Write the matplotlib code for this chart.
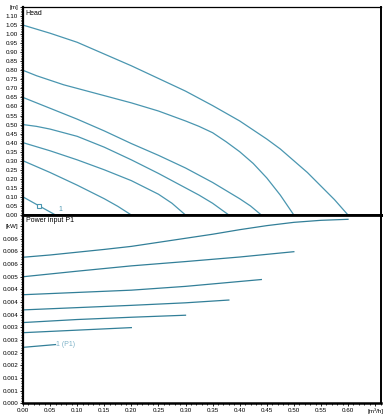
import matplotlib.pyplot as plt
import numpy as np
from matplotlib.ticker import MultipleLocator

# head curves (flow in m3/h, head in m)
head_q = [
    [0, 0.05, 0.10, 0.15, 0.20, 0.25, 0.30, 0.35, 0.40, 0.425, 0.45, 0.475,
     0.50, 0.525, 0.55, 0.575, 0.60],
    [0, 0.025, 0.05, 0.075, 0.10, 0.15, 0.20, 0.25, 0.30, 0.325, 0.35, 0.375,
     0.40, 0.425, 0.45, 0.475, 0.50],
    [0, 0.05, 0.10, 0.15, 0.20, 0.25, 0.30, 0.35, 0.375, 0.40, 0.42, 0.44],
    [0, 0.025, 0.05, 0.10, 0.15, 0.20, 0.25, 0.30, 0.325, 0.35, 0.38],
    [0, 0.05, 0.10, 0.15, 0.20, 0.25, 0.275, 0.30],
    [0, 0.05, 0.10, 0.15, 0.175, 0.20],
    [0, 0.03, 0.06],
]
head_h = [
    [1.05, 1.005, 0.955, 0.89, 0.825, 0.755, 0.685, 0.605, 0.52, 0.47, 0.42,
     0.365, 0.30, 0.235, 0.16, 0.085, 0.0],
    [0.80, 0.77, 0.745, 0.72, 0.70, 0.66, 0.62, 0.575, 0.52, 0.49, 0.455,
     0.405, 0.35, 0.285, 0.205, 0.11, 0.0],
    [0.65, 0.59, 0.53, 0.465, 0.395, 0.33, 0.26, 0.18, 0.135, 0.09, 0.05, 0.0],
    [0.50, 0.49, 0.475, 0.435, 0.375, 0.305, 0.23, 0.15, 0.11, 0.065, 0.0],
    [0.40, 0.355, 0.305, 0.25, 0.19, 0.115, 0.065, 0.0],
    [0.30, 0.235, 0.165, 0.09, 0.048, 0.0],
    [0.10, 0.05, 0.0],
]

# power input P1 (kW)
power_q = [
    [0, 0.05, 0.10, 0.15, 0.20, 0.25, 0.30, 0.35, 0.40, 0.45, 0.50, 0.55, 0.60],
    [0, 0.10, 0.20, 0.30, 0.40, 0.50],
    [0, 0.10, 0.20, 0.30, 0.44],
    [0, 0.10, 0.20, 0.30, 0.38],
    [0, 0.10, 0.20, 0.30],
    [0, 0.10, 0.20],
    [0, 0.06],
]
power_p = [
    [0.00577, 0.00586, 0.00597, 0.00608, 0.00620, 0.00636, 0.00652, 0.00668,
     0.00686, 0.00702, 0.00715, 0.00723, 0.00727],
    [0.00500, 0.00522, 0.00543, 0.00560, 0.00578, 0.00599],
    [0.00429, 0.00438, 0.00447, 0.00462, 0.00489],
    [0.00369, 0.00378, 0.00387, 0.00397, 0.00408],
    [0.00319, 0.00331, 0.00340, 0.00348],
    [0.00279, 0.00289, 0.00299],
    [0.00221, 0.00232],
]

x_ticks = np.arange(0, 0.651, 0.05)
x_labels = ["%.2f" % v for v in x_ticks[:-1]] + ["[m³/h]"]
h_ticks = np.arange(0, 1.151, 0.05)
h_labels = ["%.2f" % v for v in h_ticks[:-1]] + ["[m]"]
p_ticks = np.arange(0, 0.00701, 0.0005)
p_labels = ["0.000", "0.001", "0.001", "0.002", "0.002", "0.003", "0.003", "0.004",
            "0.004", "0.004", "0.005", "0.006", "0.006", "0.006", "[kW]"]

plt.rcParams["font.family"] = ["Liberation Sans", "DejaVu Sans"]
head_color = "#4a96b0"
power_color = "#327f98"

fig = plt.figure(figsize=(3.92, 4.17), dpi=100)
ax1 = fig.add_axes([0.0587, 0.4844, 0.912, 0.4988])
ax2 = fig.add_axes([0.0587, 0.0329, 0.912, 0.4515])

for q, h in zip(head_q, head_h):
    ax1.plot(q, h, color=head_color, lw=0.9)
ax1.plot([head_q[-1][1]], [head_h[-1][1]], marker="s", ms=3, mfc="white",
         mec=head_color, mew=0.8, ls="none")
ax1.text(0.065, 0.012, "1", color=head_color, fontsize=5, va="bottom")
ax1.text(0.005, 1.135, "Head", fontsize=5, va="top")

for q, p in zip(power_q, power_p):
    ax2.plot(q, p, color=power_color, lw=0.9)
ax2.text(0.061, power_p[-1][-1], "1 (P1)", color="#7fb3c8", fontsize=5, va="center")
ax2.text(0.005, 0.00735, "Power input P1", fontsize=5, va="top")

for ax in (ax1, ax2):
    ax.set_xlim(0, 0.66)
    ax.xaxis.set_minor_locator(MultipleLocator(0.01))
    for s in ax.spines.values():
        s.set_color("black")
    ax.spines["left"].set_linewidth(1.6)
    ax.spines["right"].set_linewidth(1.4)
    ax.tick_params(which="both", direction="out", labelsize=4.5, pad=1,
                   width=0.6, colors="black")
    ax.tick_params(which="major", length=2.5)
    ax.tick_params(which="minor", length=1.5)

ax1.set_ylim(0, 1.15)
ax1.set_yticks(h_ticks)
ax1.set_yticklabels(h_labels)
ax1.yaxis.set_minor_locator(MultipleLocator(0.01))
ax1.tick_params(axis="x", which="both", bottom=False, labelbottom=False)
ax1.spines["bottom"].set_linewidth(2)
ax1.spines["top"].set_linewidth(0.9)

ax2.set_ylim(0, 0.00744)
ax2.set_yticks(p_ticks)
ax2.set_yticklabels(p_labels)
ax2.yaxis.set_minor_locator(MultipleLocator(0.0001))
ax2.set_xticks(x_ticks)
ax2.set_xticklabels(x_labels)
ax2.spines["top"].set_linewidth(2)
ax2.spines["bottom"].set_linewidth(1.8)

fig.savefig("out.png", dpi=100)
